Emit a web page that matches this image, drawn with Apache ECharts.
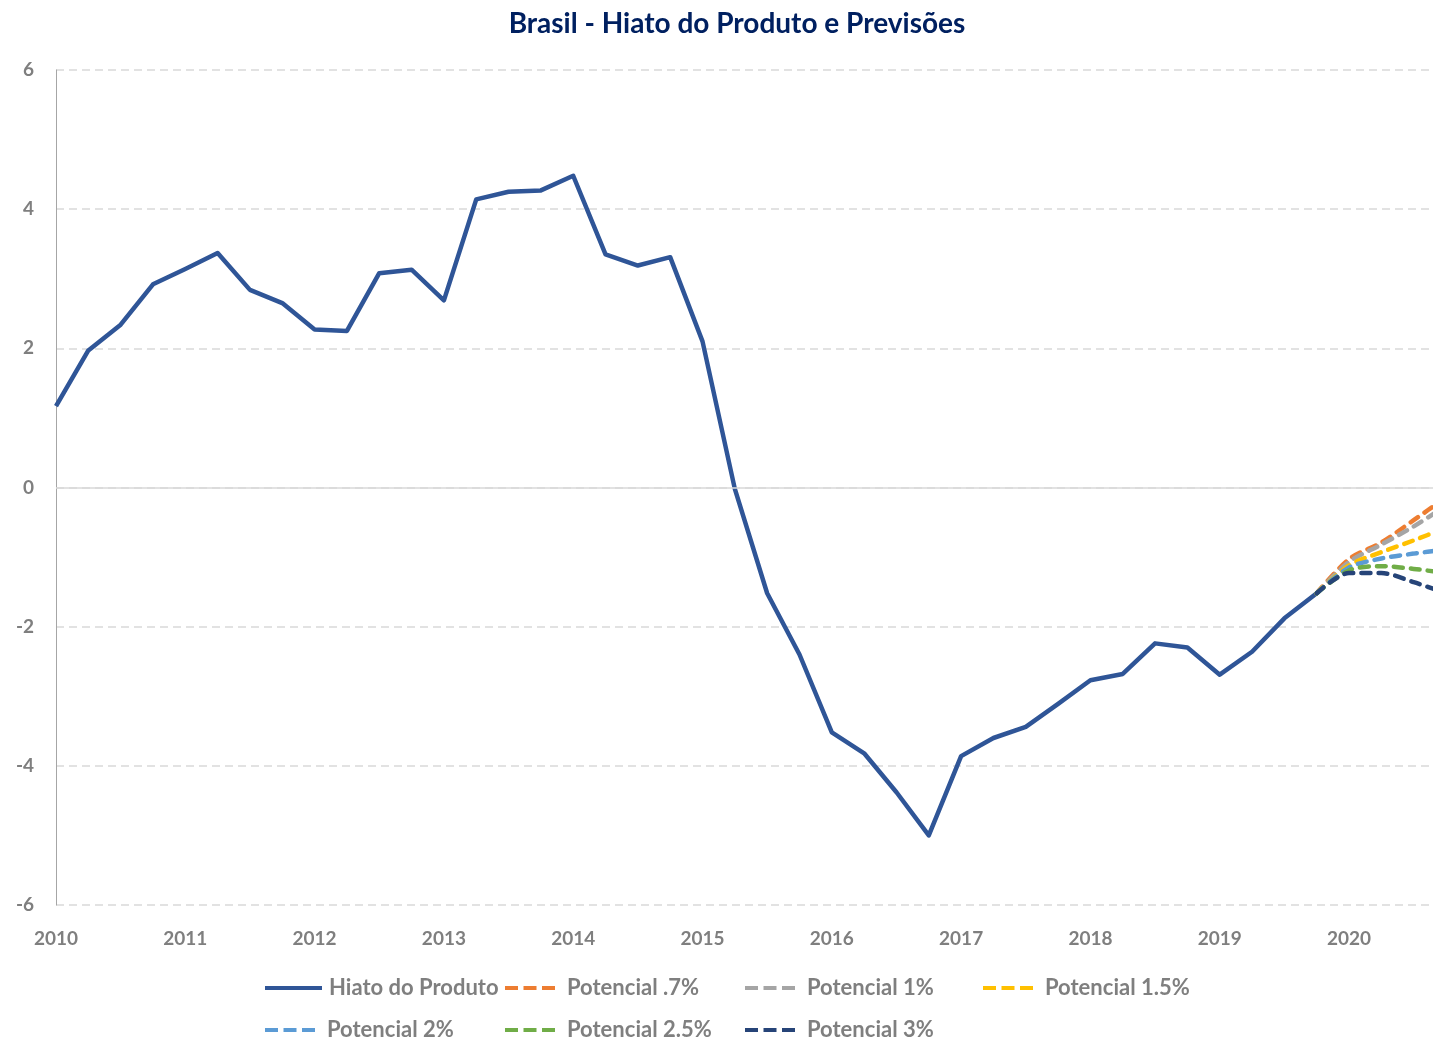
<!DOCTYPE html>
<html>
<head>
<meta charset="utf-8">
<script src="https://cdn.jsdelivr.net/npm/echarts@6/dist/echarts.min.js"></script>
<style>
  html, body { margin: 0; padding: 0; background: #fff; overflow: hidden; }
  #main { width: 1460px; height: 1039px; }
</style>
</head>
<body>
<div id="main"></div>
<script>
const years = ['2010', '2011', '2012', '2013', '2014', '2015', '2016', '2017', '2018', '2019', '2020'];

// hiato do produto, trimestral 2010T1 - 2019T4
const hiato = [
  1.17, 1.97, 2.34, 2.92,
  3.14, 3.37, 2.84, 2.65,
  2.27, 2.25, 3.08, 3.13,
  2.69, 4.14, 4.25, 4.27,
  4.48, 3.35, 3.19, 3.31,
  2.10, -0.02, -1.52, -2.40,
  -3.52, -3.82, -4.38, -5.00,
  -3.86, -3.60, -3.44, -3.11,
  -2.77, -2.68, -2.24, -2.30,
  -2.69, -2.36, -1.88, -1.52
];

// previsões 2019T4 - 2020T4
const pot07 = [-1.52, -1.03, -0.79, -0.47, -0.14];
const pot1 = [-1.52, -1.07, -0.82, -0.56, -0.26];
const pot15 = [-1.52, -1.12, -0.93, -0.76, -0.58];
const pot2 = [-1.52, -1.15, -1.02, -0.95, -0.89];
const pot25 = [-1.52, -1.19, -1.13, -1.17, -1.23];
const pot3 = [-1.52, -1.23, -1.23, -1.36, -1.52];

const yTicks = [-6, -4, -2, 0, 2, 4, 6];

const quarters = [];
years.forEach((y) => {
  for (let q = 1; q <= 4; q++) quarters.push(y + 'T' + q);
});

const font = 'Lato';
const grayText = '#7f7f7f';

const forecast = (vals) => {
  const out = new Array(hiato.length - 1).fill(null);
  return out.concat(vals);
};

const dashed = [
  { name: 'Potencial .7%', data: pot07, color: '#ed7d31' },
  { name: 'Potencial 1%', data: pot1, color: '#a5a5a5' },
  { name: 'Potencial 1.5%', data: pot15, color: '#ffc000' },
  { name: 'Potencial 2%', data: pot2, color: '#5b9bd5' },
  { name: 'Potencial 2.5%', data: pot25, color: '#70ad47' },
  { name: 'Potencial 3%', data: pot3, color: '#264478' }
];

const legendPos = [
  { name: 'Hiato do Produto', left: 265, top: 977 },
  { name: 'Potencial .7%', left: 505, top: 977 },
  { name: 'Potencial 1%', left: 745, top: 977 },
  { name: 'Potencial 1.5%', left: 983, top: 977 },
  { name: 'Potencial 2%', left: 265, top: 1019 },
  { name: 'Potencial 2.5%', left: 505, top: 1019 },
  { name: 'Potencial 3%', left: 745, top: 1019 }
];

const dashIcon = 'path://M0,0h13v4h-13z M18.5,0h13v4h-13z M37,0h13v4h-13z';
const solidIcon = 'path://M0,0h57v4h-57z';

const myChart = echarts.init(document.getElementById('main'));

const option = {
  animation: false,
  title: {
    text: 'Brasil - Hiato do Produto e Previsões',
    left: 732,
    textAlign: 'center',
    top: 5,
    textStyle: { fontFamily: font, fontWeight: 'bold', fontSize: 28, color: '#002060' }
  },
  legend: legendPos.map((l, i) => ({
    data: [l.name],
    left: l.left,
    top: l.top,
    padding: 0,
    icon: i === 0 ? solidIcon : dashIcon,
    itemWidth: i === 0 ? 57 : 50,
    itemHeight: 4,
    textStyle: {
      fontFamily: font,
      fontWeight: 'bold',
      fontSize: 22,
      color: grayText,
      padding: [0, 0, 0, i === 0 ? 2 : 7]
    }
  })),
  grid: { left: 56, right: 14, top: 70, bottom: 134 },
  xAxis: {
    type: 'category',
    boundaryGap: false,
    data: quarters,
    axisLine: { show: false },
    axisTick: { show: false },
    splitLine: { show: false },
    axisLabel: {
      interval: 3,
      margin: 24,
      formatter: (v) => v.slice(0, 4),
      fontFamily: font,
      fontWeight: 'bold',
      fontSize: 19,
      color: grayText
    }
  },
  yAxis: {
    type: 'value',
    min: yTicks[0],
    max: yTicks[yTicks.length - 1],
    interval: 2,
    axisLine: { show: true, lineStyle: { color: '#a6a6a6', width: 1 } },
    axisTick: { show: false },
    axisLabel: {
      margin: 22,
      fontFamily: font,
      fontWeight: 'bold',
      fontSize: 19,
      color: grayText
    },
    splitLine: { lineStyle: { color: '#d9d9d9', type: [8, 5], width: 1.5 } }
  },
  series: [
    {
      name: 'zero',
      type: 'line',
      data: [],
      silent: true,
      z: 1,
      markLine: {
        silent: true,
        symbol: 'none',
        label: { show: false },
        lineStyle: { color: '#d9d9d9', type: 'solid', width: 1.5 },
        data: [{ yAxis: 0 }]
      }
    },
    {
      name: 'Hiato do Produto',
      type: 'line',
      data: hiato,
      symbol: 'none',
      z: 3,
      color: '#2f5597',
      lineStyle: { color: '#2f5597', width: 4.5, join: 'round' }
    }
  ].concat(dashed.map((d) => ({
    name: d.name,
    type: 'line',
    data: forecast(d.data),
    symbol: 'none',
    smooth: 0.3,
    z: 4,
    color: d.color,
    lineStyle: { color: d.color, width: 4.5, type: [9, 8], cap: 'round' }
  })))
};

myChart.setOption(option);
</script>
</body>
</html>
